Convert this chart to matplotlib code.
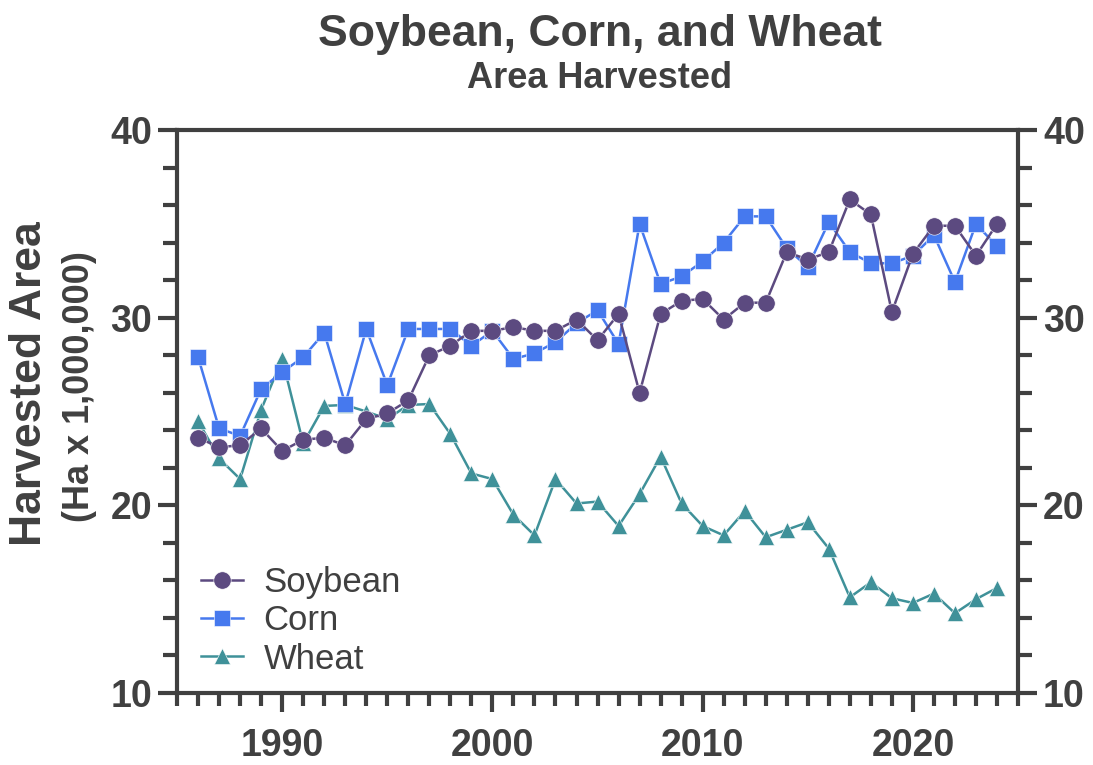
import numpy as np
import matplotlib
matplotlib.use('Agg')
from matplotlib import pyplot as plt
from matplotlib.ticker import MultipleLocator

plt.rcParams['font.family'] = ['Liberation Sans', 'DejaVu Sans']

years = list(range(1986, 2025))
soybean = [23.6, 23.1, 23.2, 24.1, 22.9, 23.5, 23.6, 23.2, 24.6, 24.9, 25.6,
           28.0, 28.5, 29.3, 29.3, 29.5, 29.3, 29.3, 29.9, 28.8, 30.2,
           26.0, 30.2, 30.9, 31.0, 29.9, 30.8, 30.8, 33.5, 33.1, 33.5,
           36.3, 35.5, 30.3, 33.4, 34.9, 34.9, 33.3, 35.0]
corn = [27.9, 24.1, 23.7, 26.2, 27.1, 27.9, 29.2, 25.4, 29.4, 26.4, 29.4,
        29.4, 29.4, 28.5, 29.3, 27.8, 28.1, 28.7, 29.7, 30.4, 28.6,
        35.0, 31.8, 32.2, 33.0, 34.0, 35.4, 35.4, 33.7, 32.7, 35.1,
        33.5, 32.9, 32.9, 33.3, 34.4, 31.9, 35.0, 33.8]
wheat = [24.5, 22.5, 21.4, 25.1, 27.8, 23.3, 25.3, 25.35, 25.0, 24.6, 25.35,
         25.4, 23.8, 21.7, 21.4, 19.5, 18.4, 21.4, 20.1, 20.2, 18.9,
         20.6, 22.6, 20.1, 18.9, 18.4, 19.7, 18.3, 18.7, 19.1, 17.7,
         15.1, 15.9, 15.05, 14.8, 15.3, 14.25, 15.0, 15.6]

c_soy = '#5c4a80'
c_corn = '#4679ee'
c_wheat = '#3f9199'
dark = '#404040'

fig = plt.figure(figsize=(10.93, 7.65), dpi=100)
ax = fig.add_axes([0.162, 0.0941, 0.7694, 0.7359])

# wheat first so soybean sits on top
lw = ax.plot(years, wheat, '-^', color=c_wheat, lw=1.8, ms=12, mec='white', mew=0.4, label='Wheat')[0]
lc = ax.plot(years, corn, '-s', color=c_corn, lw=1.8, ms=11.5, mec='white', mew=0.4, label='Corn')[0]
ls = ax.plot(years, soybean, '-o', color=c_soy, lw=1.8, ms=12.5, mec='white', mew=0.4, label='Soybean')[0]

ax.set_xlim(1985, 2025)
ax.set_ylim(10, 40)
ax.xaxis.set_major_locator(MultipleLocator(10))
ax.xaxis.set_minor_locator(MultipleLocator(1))
ax.yaxis.set_major_locator(MultipleLocator(10))
ax.yaxis.set_minor_locator(MultipleLocator(2))

for s in ax.spines.values():
    s.set_linewidth(3)
    s.set_color(dark)

ax.yaxis.set_ticks_position('both')
ax.tick_params(axis='both', which='both', direction='out', color=dark, width=3,
               labelcolor=dark, labelsize=27)
ax.tick_params(axis='y', which='major', length=14, pad=4, labelright=True)
ax.tick_params(axis='y', which='minor', length=10)
ax.tick_params(axis='x', which='major', length=14, pad=11)
ax.tick_params(axis='x', which='minor', length=9)
for lab in ax.get_xticklabels() + ax.get_yticklabels():
    lab.set_fontweight('bold')
for t in ax.yaxis.get_major_ticks():
    t.label2.set_fontweight('bold')

leg = ax.legend([ls, lc, lw], ['Soybean', 'Corn', 'Wheat'], loc='lower left',
                bbox_to_anchor=(0.008, 0.0), frameon=False, fontsize=25,
                handlelength=1.2, handletextpad=0.6, labelspacing=0.15,
                borderaxespad=0.1)
for t in leg.get_texts():
    t.set_color(dark)

fig.text(0.5485, 0.955, 'Soybean, Corn, and Wheat', ha='center', va='center',
         fontsize=32, fontweight='bold', color=dark)
fig.text(0.5485, 0.898, 'Area Harvested', ha='center', va='center',
         fontsize=26, fontweight='bold', color=dark)
fig.text(0.027, 0.498, 'Harvested Area', rotation=90, ha='center', va='center',
         fontsize=32, fontweight='bold', color=dark)
fig.text(0.073, 0.495, '(Ha x 1,000,000)', rotation=90, ha='center', va='center',
         fontsize=26, fontweight='bold', color=dark)

plt.savefig('out.png', dpi=100)
